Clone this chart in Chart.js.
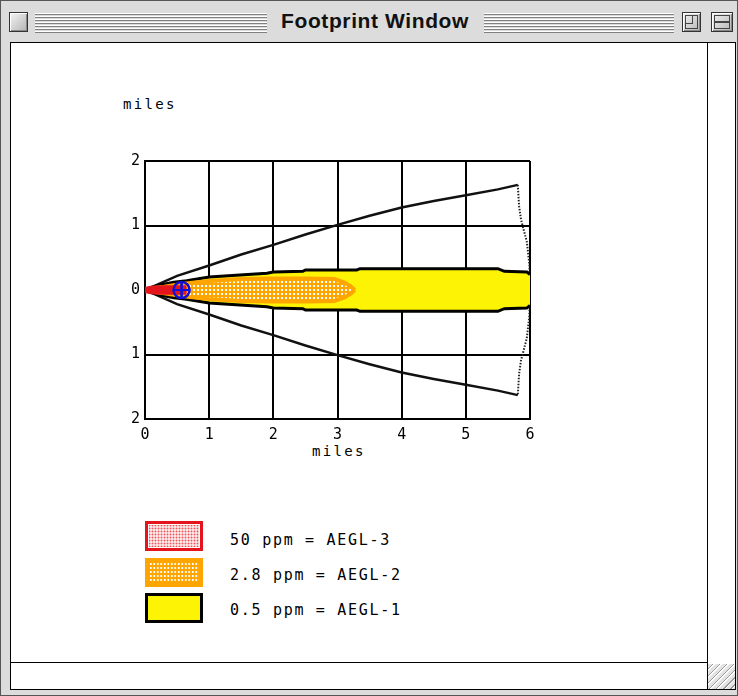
<!DOCTYPE html>
<html>
<head>
<meta charset="utf-8">
<script src="https://cdn.jsdelivr.net/npm/chart.js@4.4.1/dist/chart.umd.min.js"></script>
<style>
  html, body { margin:0; padding:0; width:738px; height:696px; overflow:hidden; background:#dcdcdc; }
  #win { position:absolute; left:0; top:0; width:736px; height:694px; border:1px solid #555; background:#dcdcdc; }
  .stripes { position:absolute; top:12px; height:20px;
    background: repeating-linear-gradient(to bottom, #ffffff 0px, #ffffff 1px, #808080 1px, #808080 2px, #dcdcdc 2px, #dcdcdc 3px); }
  #title { position:absolute; left:266px; width:216px; top:8px; text-align:center;
    font-family:"Liberation Sans", Arial, sans-serif; font-weight:bold; font-size:21px; letter-spacing:0.6px; color:#111; }
  .cbox { position:absolute; top:11px; width:17px; height:18px; border:1px solid #333;
    background:linear-gradient(135deg,#f4f4f4,#b4b4b4); box-shadow: inset 1px 1px 0 #fff, inset -1px -1px 0 #888; }
  .ib { position:absolute; border:1px solid #444; }
  #content { position:absolute; left:10px; top:42px; width:724px; height:646px; background:#fff; border:1px solid #000; }
  .vline { position:absolute; background:#000; }
  #grip { position:absolute; left:708px; top:664px; width:27px; height:25px; background:#e4e4e4;
    background-image: repeating-linear-gradient(135deg, transparent 0px, transparent 3px, #9a9a9a 3px, #9a9a9a 4px, #fff 4px, #fff 5px); }
  .lab { position:absolute; font-family:"DejaVu Sans Mono", monospace; color:#000; white-space:nowrap; }
  .axlab { font-size:14px; letter-spacing:2.3px; }
  .legtxt { font-size:15px; letter-spacing:1.7px; }
  .lbox { position:absolute; left:145px; width:58px; box-sizing:border-box; }
  #c { position:absolute; left:0; top:0; }
</style>
</head>
<body>
<div id="win">
  <div class="cbox" style="left:8px;"></div>
  <div class="stripes" style="left:34px; width:232px;"></div>
  <div id="title">Footprint Window</div>
  <div class="stripes" style="left:483px; width:190px;"></div>
  <div class="cbox" style="left:681px;"><div class="ib" style="left:2px;top:2px;width:11px;height:12px;"></div><div class="ib" style="left:2px;top:2px;width:6px;height:7px;"></div></div>
  <div class="cbox" style="left:710px; width:20px;"><div class="ib" style="left:2px;top:2px;width:14px;height:5px;"></div><div class="ib" style="left:2px;top:9px;width:14px;height:5px;"></div></div>
</div>
<div id="content"></div>
<div class="vline" style="left:707px; top:42px; width:1px; height:648px;"></div>
<div class="vline" style="left:10px; top:662px; width:698px; height:1px;"></div>
<div id="grip"></div>

<div class="lab axlab" style="left:123px; top:96px;">miles</div>
<div class="lab axlab" style="left:312px; top:443px;">miles</div>

<div id="legend"></div>

<canvas id="c" width="738" height="696"></canvas>

<script>
// ---- data (miles) ----
const xTickValues = [0, 1, 2, 3, 4, 5, 6];
const yTickValues = [-2, -1, 0, 1, 2];

// AEGL-1 (0.5 ppm) footprint: downwind distance and half-width
const aegl1Distance  = [0, 0.1, 0.23, 0.45, 0.65, 1.0, 1.3, 1.6, 1.9, 2.0, 2.46, 2.5, 3.3, 3.35, 5.5, 5.6, 5.95, 6.0];
const aegl1HalfWidth = [0, 0.04, 0.08, 0.12, 0.145, 0.2, 0.22, 0.24, 0.26, 0.28, 0.29, 0.31, 0.31, 0.33, 0.33, 0.29, 0.28, 0.24];

// AEGL-2 (2.8 ppm) footprint
const aegl2Distance  = [0.05, 0.3, 0.5, 0.7, 1.0, 1.5, 2.0, 2.5, 2.95, 3.1, 3.2, 3.27];
const aegl2HalfWidth = [0.02, 0.05, 0.08, 0.11, 0.14, 0.17, 0.18, 0.18, 0.17, 0.12, 0.06, 0];

// AEGL-3 (50 ppm) footprint
const aegl3Distance  = [0, 0.1, 0.3, 0.65];
const aegl3HalfWidth = [0.04, 0.06, 0.065, 0.065];

// wind direction confidence lines
const confDistance  = [0, 0.5, 1, 1.5, 2, 2.5, 3, 3.5, 4, 4.5, 5, 5.5, 5.81];
const confHalfWidth = [0, 0.22, 0.38, 0.55, 0.7, 0.86, 1.01, 1.15, 1.28, 1.38, 1.47, 1.56, 1.63];
// dotted end arc of the confidence region
const arcDistance  = [5.81, 5.83, 5.86, 5.95, 5.99, 6.0];
const arcHalfWidth = [1.63, 1.3, 1.09, 0.75, 0.4, 0];

// release source location
const sourceX = [0.57];
const sourceY = [0];

const legendLabels = ['50 ppm = AEGL-3', '2.8 ppm = AEGL-2', '0.5 ppm = AEGL-1'];

// ---- colours ----
const RED = '#e4141c', ORANGE = '#ffa500', YELLOW = '#fcf305', BLUE = '#1010d8';

function edge(dist, half, sign) { return dist.map((d, i) => ({ x: d, y: sign * half[i] })); }

// orange dotted pattern
const pc = document.createElement('canvas'); pc.width = 4; pc.height = 4;
const pctx = pc.getContext('2d');
pctx.fillStyle = ORANGE; pctx.fillRect(0, 0, 4, 4);
pctx.fillStyle = '#ffffff'; pctx.fillRect(1, 1, 2, 2);
const orangePattern = pctx.createPattern(pc, 'repeat');

// legend (HTML)
const legendStyles = [
  'top:521px;height:30px;border:3px solid ' + RED + ';padding:1px;background-clip:content-box;background-color:#fde4e4;background-image:radial-gradient(circle, #ec5058 0.8px, transparent 1.1px);background-size:3px 3px;',
  'top:558px;height:29px;border:4px solid ' + ORANGE + ';background-color:' + ORANGE + ';background-image:radial-gradient(circle, #fff 0.9px, transparent 1.2px);background-size:3.5px 4px;',
  'top:593px;height:30px;border:3px solid #000;background:' + YELLOW + ';'
];
const legendTextTop = [531, 566, 601];
const lg = document.getElementById('legend');
legendLabels.forEach((t, i) => {
  const b = document.createElement('div'); b.className = 'lbox'; b.style.cssText = legendStyles[i]; lg.appendChild(b);
  const s = document.createElement('div'); s.className = 'lab legtxt'; s.style.left = '230px'; s.style.top = legendTextTop[i] + 'px'; s.textContent = t; lg.appendChild(s);
});

Chart.defaults.font.family = '"DejaVu Sans Mono", monospace';
Chart.defaults.color = '#000';

const arcPoints = edge(arcDistance, arcHalfWidth, 1).concat(edge(arcDistance, arcHalfWidth, -1).reverse());

const markerOnTop = {
  id: 'markerOnTop',
  afterDraw(chart) {
    const ctx = chart.ctx;
    chart.data.datasets.forEach((ds, i) => {
      if (ds.isMarker) chart.getDatasetMeta(i).data.forEach(p => p.draw(ctx, chart.chartArea));
    });
  }
};

const lineDefaults = { showLine: true, pointRadius: 0, pointHoverRadius: 0, tension: 0 };

new Chart(document.getElementById('c'), {
  type: 'scatter',
  data: {
    datasets: [
      { ...lineDefaults, label: 'source', isMarker: true, data: sourceX.map((x, i) => ({ x, y: sourceY[i] })), showLine: false,
        pointStyle: 'circle', pointRadius: 8, pointBorderWidth: 2.2, pointBorderColor: BLUE, pointBackgroundColor: 'rgba(0,0,0,0)', order: 1 },
      { ...lineDefaults, label: 'source cross', isMarker: true, data: sourceX.map((x, i) => ({ x, y: sourceY[i] })), showLine: false,
        pointStyle: 'cross', pointRadius: 8, pointBorderWidth: 2.2, pointBorderColor: BLUE, order: 1 },
      // AEGL-3
      { ...lineDefaults, label: 'AEGL-3 upper', data: edge(aegl3Distance, aegl3HalfWidth, 1), borderColor: RED, borderWidth: 1, fill: false, order: 3 },
      { ...lineDefaults, label: 'AEGL-3 lower', data: edge(aegl3Distance, aegl3HalfWidth, -1), borderColor: RED, borderWidth: 1, backgroundColor: RED, fill: '-1', order: 3 },
      // AEGL-2
      { ...lineDefaults, label: 'AEGL-2 upper', data: edge(aegl2Distance, aegl2HalfWidth, 1), borderColor: ORANGE, borderWidth: 4, fill: false, order: 4 },
      { ...lineDefaults, label: 'AEGL-2 lower', data: edge(aegl2Distance, aegl2HalfWidth, -1), borderColor: ORANGE, borderWidth: 4, backgroundColor: orangePattern, fill: '-1', order: 4 },
      // AEGL-1
      { ...lineDefaults, label: 'AEGL-1 upper', data: edge(aegl1Distance, aegl1HalfWidth, 1), borderColor: '#000', borderWidth: 3, fill: false, order: 5 },
      { ...lineDefaults, label: 'AEGL-1 lower', data: edge(aegl1Distance, aegl1HalfWidth, -1), borderColor: '#000', borderWidth: 3, backgroundColor: YELLOW, fill: '-1', order: 5 },
      // confidence lines
      { ...lineDefaults, label: 'confidence upper', data: edge(confDistance, confHalfWidth, 1), borderColor: '#111', borderWidth: 2.5, fill: false, order: 6 },
      { ...lineDefaults, label: 'confidence lower', data: edge(confDistance, confHalfWidth, -1), borderColor: '#111', borderWidth: 2.5, fill: false, order: 6 },
      { ...lineDefaults, label: 'confidence arc', data: arcPoints, borderColor: '#222', borderWidth: 2, borderDash: [1.5, 1.5], fill: false, order: 7 }
    ]
  },
  options: {
    responsive: false,
    animation: false,
    events: [],
    layout: { padding: { left: 120, right: 208, top: 161, bottom: 237 } },
    plugins: { legend: { display: false }, tooltip: { enabled: false } },
    scales: {
      x: {
        type: 'linear', min: 0, max: 6, z: 1,
        afterFit: s => { s.height = 40; },
        afterBuildTicks: s => { s.ticks = xTickValues.map(v => ({ value: v })); },
        ticks: { padding: 7, font: { size: 15 }, color: '#000', maxRotation: 0 },
        grid: { color: '#000', lineWidth: 2, drawTicks: false },
        border: { color: '#000', width: 2 }
      },
      y: {
        type: 'linear', min: -2, max: 2, z: 1,
        afterFit: s => { s.width = 25; },
        afterBuildTicks: s => { s.ticks = yTickValues.map(v => ({ value: v })); },
        ticks: { padding: 5, font: { size: 15 }, color: '#000', callback: v => String(Math.abs(v)) },
        grid: { color: '#000', lineWidth: 2, drawTicks: false },
        border: { color: '#000', width: 2 }
      }
    }
  },
  plugins: [markerOnTop]
});
</script>
</body>
</html>
